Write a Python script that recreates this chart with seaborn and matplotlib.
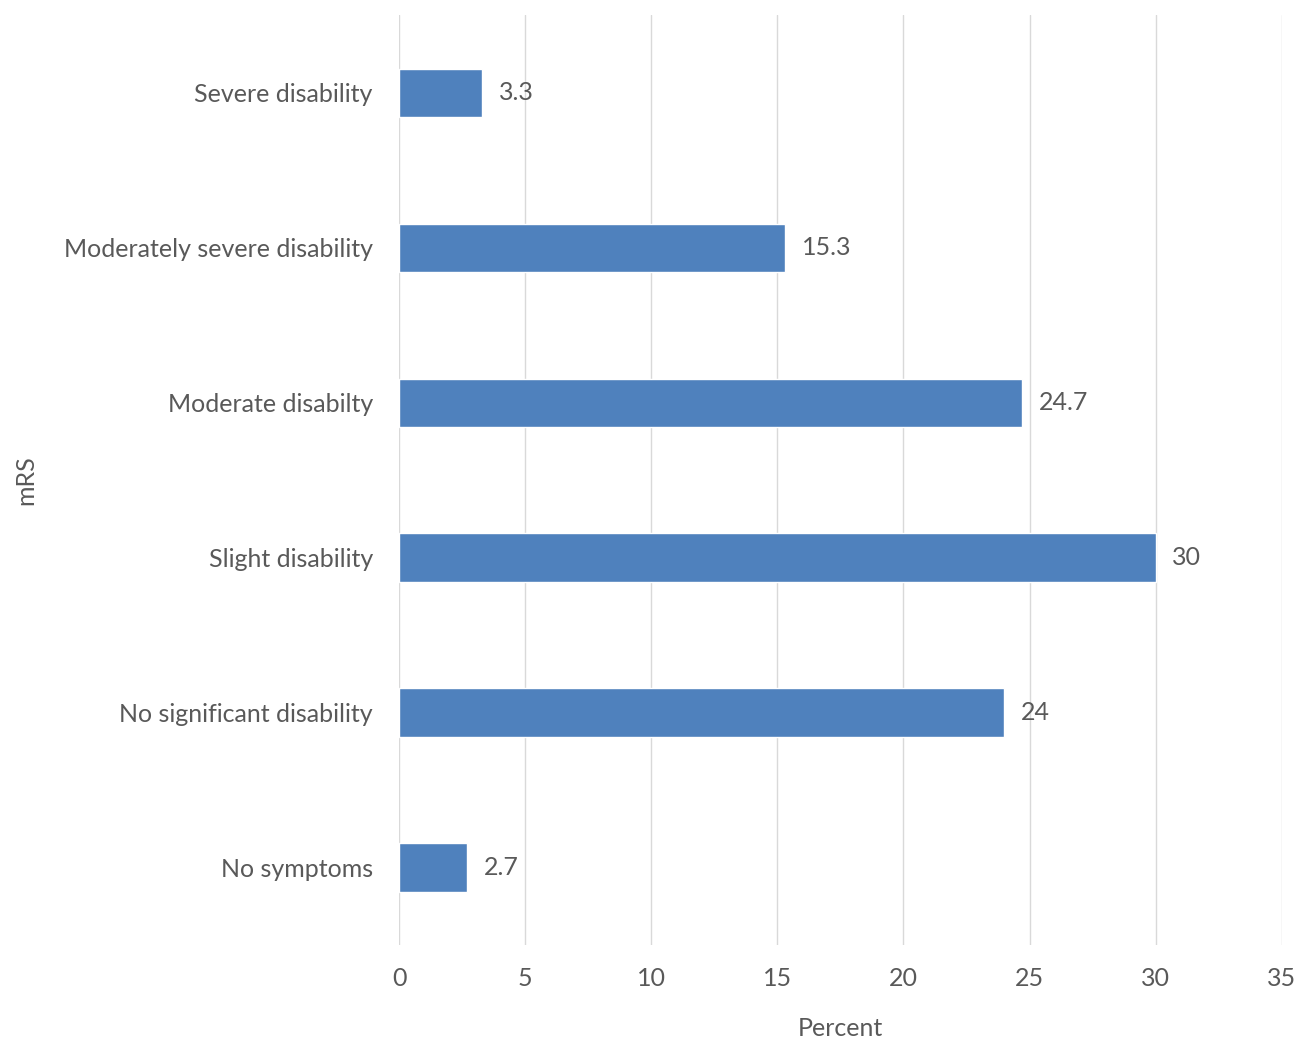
import matplotlib
matplotlib.use("Agg")
import matplotlib.pyplot as plt
import seaborn as sns
import pandas as pd

categories = ["Severe disability", "Moderately severe disability", "Moderate disabilty",
              "Slight disability", "No significant disability", "No symptoms"]
values = [3.3, 15.3, 24.7, 30, 24, 2.7]
value_labels = ["3.3", "15.3", "24.7", "30", "24", "2.7"]
xticks = [0, 5, 10, 15, 20, 25, 30, 35]

sns.set_theme(style="white")
plt.rcParams['font.family'] = ['Lato', 'DejaVu Sans']
txt = "#595959"
fs = 18

df = pd.DataFrame({"mRS": categories, "Percent": values})

fig = plt.figure(figsize=(12.96, 10.39), dpi=100)
ax = fig.add_axes([0.308, 0.0905, 0.681, 0.895])
sns.barplot(data=df, y="mRS", x="Percent", order=categories, color="#4f81bd",
            width=0.31, saturation=1, ax=ax)

ax.set_xlim(0, 35)
ax.set_ylim(5.5, -0.5)
ax.set_xticks(xticks)
ax.set_xticklabels([str(t) for t in xticks], color=txt, fontsize=fs)
ax.tick_params(axis='y', labelsize=fs, colors=txt, length=0, pad=19)
ax.tick_params(axis='x', length=0, pad=16)
ax.xaxis.grid(True, color="#d9d9d9", linewidth=1)
ax.set_axisbelow(True)
for s in ax.spines.values():
    s.set_visible(False)

for p, lab in zip(ax.patches, value_labels):
    ax.annotate(lab, (p.get_width(), p.get_y() + p.get_height() / 2),
                xytext=(12, 0), textcoords="offset points", va="center", ha="left",
                fontsize=fs, color=txt)

ax.set_xlabel("Percent", fontsize=fs, color=txt)
ax.xaxis.set_label_coords(0.5, -0.077)
ax.set_ylabel("mRS", fontsize=fs, color=txt)
ax.yaxis.set_label_coords(-0.41, 0.5)

fig.savefig("out.png", dpi=100)
